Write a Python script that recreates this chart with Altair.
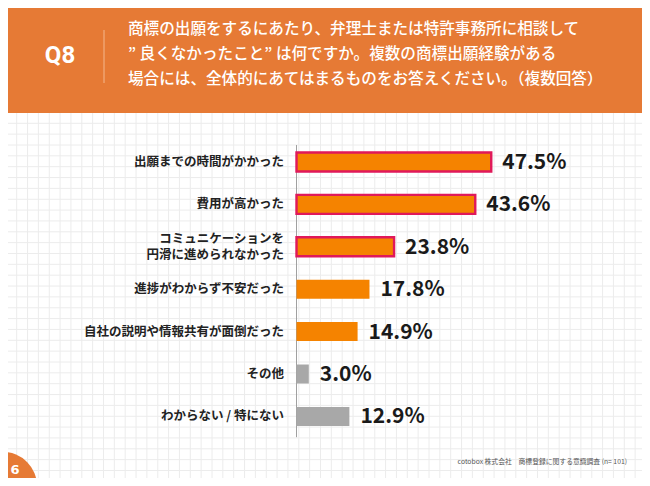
import altair as alt
import pandas as pd

# ---- data ----
categories = [
    "出願までの時間がかかった",
    "費用が高かった",
    "コミュニケーションを\n円滑に進められなかった",
    "進捗がわからず不安だった",
    "自社の説明や情報共有が面倒だった",
    "その他",
    "わからない / 特にない",
]
values = [47.5, 43.6, 23.8, 17.8, 14.9, 3.0, 12.9]
groups = ["highlight", "highlight", "highlight", "normal", "normal", "other", "other"]

question_lines = [
    "商標の出願をするにあたり、弁理士または特許事務所に相談して",
    "” 良くなかったこと” は何ですか。複数の商標出願経験がある",
    "場合には、全体的にあてはまるものをお答えください。（複数回答）",
]
qlabel = "Q8"
source = "cotobox 株式会社　商標登録に関する意識調査 (n= 101)"

df = pd.DataFrame({"category": categories, "value": values, "group": groups,
                   "idx": list(range(len(categories)))})

# ---- layout ----
JP = "Noto Sans CJK JP"
ORANGE_BG = "#E67A35"
BAR_ORANGE = "#F58300"
BAR_GRAY = "#A8A8A8"
BORDER = "#E0195A"

W, H = 634, 365
PX_PER = 4.1
X0 = 288.5
STEP = 42.4
Y0 = 49.0

xscale = alt.Scale(domain=[-X0 / PX_PER, (W - X0) / PX_PER], nice=False, zero=False)
yscale = alt.Scale(domain=[-Y0 / STEP, (H - Y0) / STEP], nice=False, zero=False, reverse=True)

grid_sp = 10.85
gx = [(8.7 + k * grid_sp - X0) / PX_PER for k in range(int((W - 8.7) / grid_sp) + 1)]
gy = [(10.3 + k * grid_sp - Y0) / STEP for k in range(int((H - 10.3) / grid_sp) + 1)]

grid_v = alt.Chart(pd.DataFrame({"gx": gx})).mark_rule(color="#ECECEC", strokeWidth=1).encode(
    x=alt.X("gx:Q", scale=xscale, axis=None))
grid_h = alt.Chart(pd.DataFrame({"gy": gy})).mark_rule(color="#ECECEC", strokeWidth=1).encode(
    y=alt.Y("gy:Q", scale=yscale, axis=None))

half = 9.5 / STEP
bars = alt.Chart(df).transform_calculate(
    lo=f"datum.idx - {half}", hi=f"datum.idx + {half}", zero="0"
).mark_rect().encode(
    x=alt.X("value:Q", scale=xscale, axis=None),
    x2="zero:Q",
    y=alt.Y("lo:Q", scale=yscale, axis=None),
    y2="hi:Q",
    color=alt.Color("group:N", scale=alt.Scale(domain=["highlight", "normal", "other"],
                                                range=[BAR_ORANGE, BAR_ORANGE, BAR_GRAY]), legend=None),
    stroke=alt.Stroke("group:N", scale=alt.Scale(domain=["highlight", "normal", "other"],
                                                  range=[BORDER, BAR_ORANGE, BAR_GRAY]), legend=None),
    strokeWidth=alt.condition("datum.group == 'highlight'", alt.value(2.4), alt.value(0)),
)

axis_df = pd.DataFrame({"ax": [0.0], "ay1": [-0.4], "ay2": [6.49]})
axis_line = alt.Chart(axis_df).mark_rule(color="#A0A0A0", strokeWidth=1).encode(
    x=alt.X("ax:Q", scale=xscale, axis=None),
    y=alt.Y("ay1:Q", scale=yscale, axis=None),
    y2="ay2:Q",
)

cat_labels = alt.Chart(df).transform_calculate(
    ly=f"indexof(datum.category, '\\n') >= 0 ? datum.idx - 8 / {STEP} : datum.idx"
).mark_text(
    align="right", baseline="middle", fontSize=12.5, fontWeight="bold", color="#222222",
    lineBreak="\n", lineHeight=16, font=JP
).encode(
    x=alt.value(276),
    y=alt.Y("ly:Q", scale=yscale, axis=None),
    text="category:N",
)

pct_labels = alt.Chart(df).transform_calculate(
    label="format(datum.value, '.1f') + '%'"
).mark_text(
    align="left", baseline="middle", dx=11, dy=1, fontSize=21, fontWeight="bold",
    color="#1A1A1A", font=JP
).encode(
    x=alt.X("value:Q", scale=xscale, axis=None),
    y=alt.Y("idx:Q", scale=yscale, axis=None),
    text="label:N",
)

q_text = alt.Chart(pd.DataFrame({"t": [qlabel]})).mark_text(
    align="center", baseline="middle", fontSize=24, fontWeight="bold", color="white", font="Roboto"
).encode(x=alt.value(52), y=alt.value(-57), text="t:N")

sep = alt.Chart(pd.DataFrame({"t": [qlabel]})).mark_rule(color="#F4B78E", strokeWidth=1).encode(
    x=alt.value(96), y=alt.value(-83), y2=alt.value(-30))

question = alt.Chart(pd.DataFrame({"t": ["\n".join(question_lines)]})).mark_text(
    align="left", baseline="middle", fontSize=15.6, fontWeight=500, color="white", font=JP,
    lineBreak="\n", lineHeight=25
).encode(x=alt.value(120), y=alt.value(-84), text="t:N")

footer = alt.Chart(pd.DataFrame({"t": [source]})).mark_text(
    align="right", baseline="middle", fontSize=6.8, color="#555555", font=JP
).encode(x=alt.value(619), y=alt.value(349), text="t:N")

corner = alt.Chart(pd.DataFrame({"t": ["logo"]})).mark_point(
    filled=True, shape="circle", size=4624, color=ORANGE_BG, opacity=1
).encode(x=alt.value(-5), y=alt.value(373))

logo = alt.Chart(pd.DataFrame({"t": ["6"]})).mark_text(
    align="center", baseline="middle", fontSize=13, fontWeight="bold", color="white", font="DejaVu Sans"
).encode(x=alt.value(7), y=alt.value(357), text="t:N")

chart = alt.layer(
    grid_v, grid_h, axis_line, bars, cat_labels, pct_labels,
    q_text, sep, question, footer, corner, logo
).properties(
    width=W, height=H,
    padding={"left": 0, "top": 105, "right": 0, "bottom": 0},
    autosize=alt.AutoSizeParams(type="none"),
    background=ORANGE_BG,
).configure_view(fill="white", strokeWidth=0)

chart.save("out.html", embed_options={"renderer": "svg", "actions": False})
